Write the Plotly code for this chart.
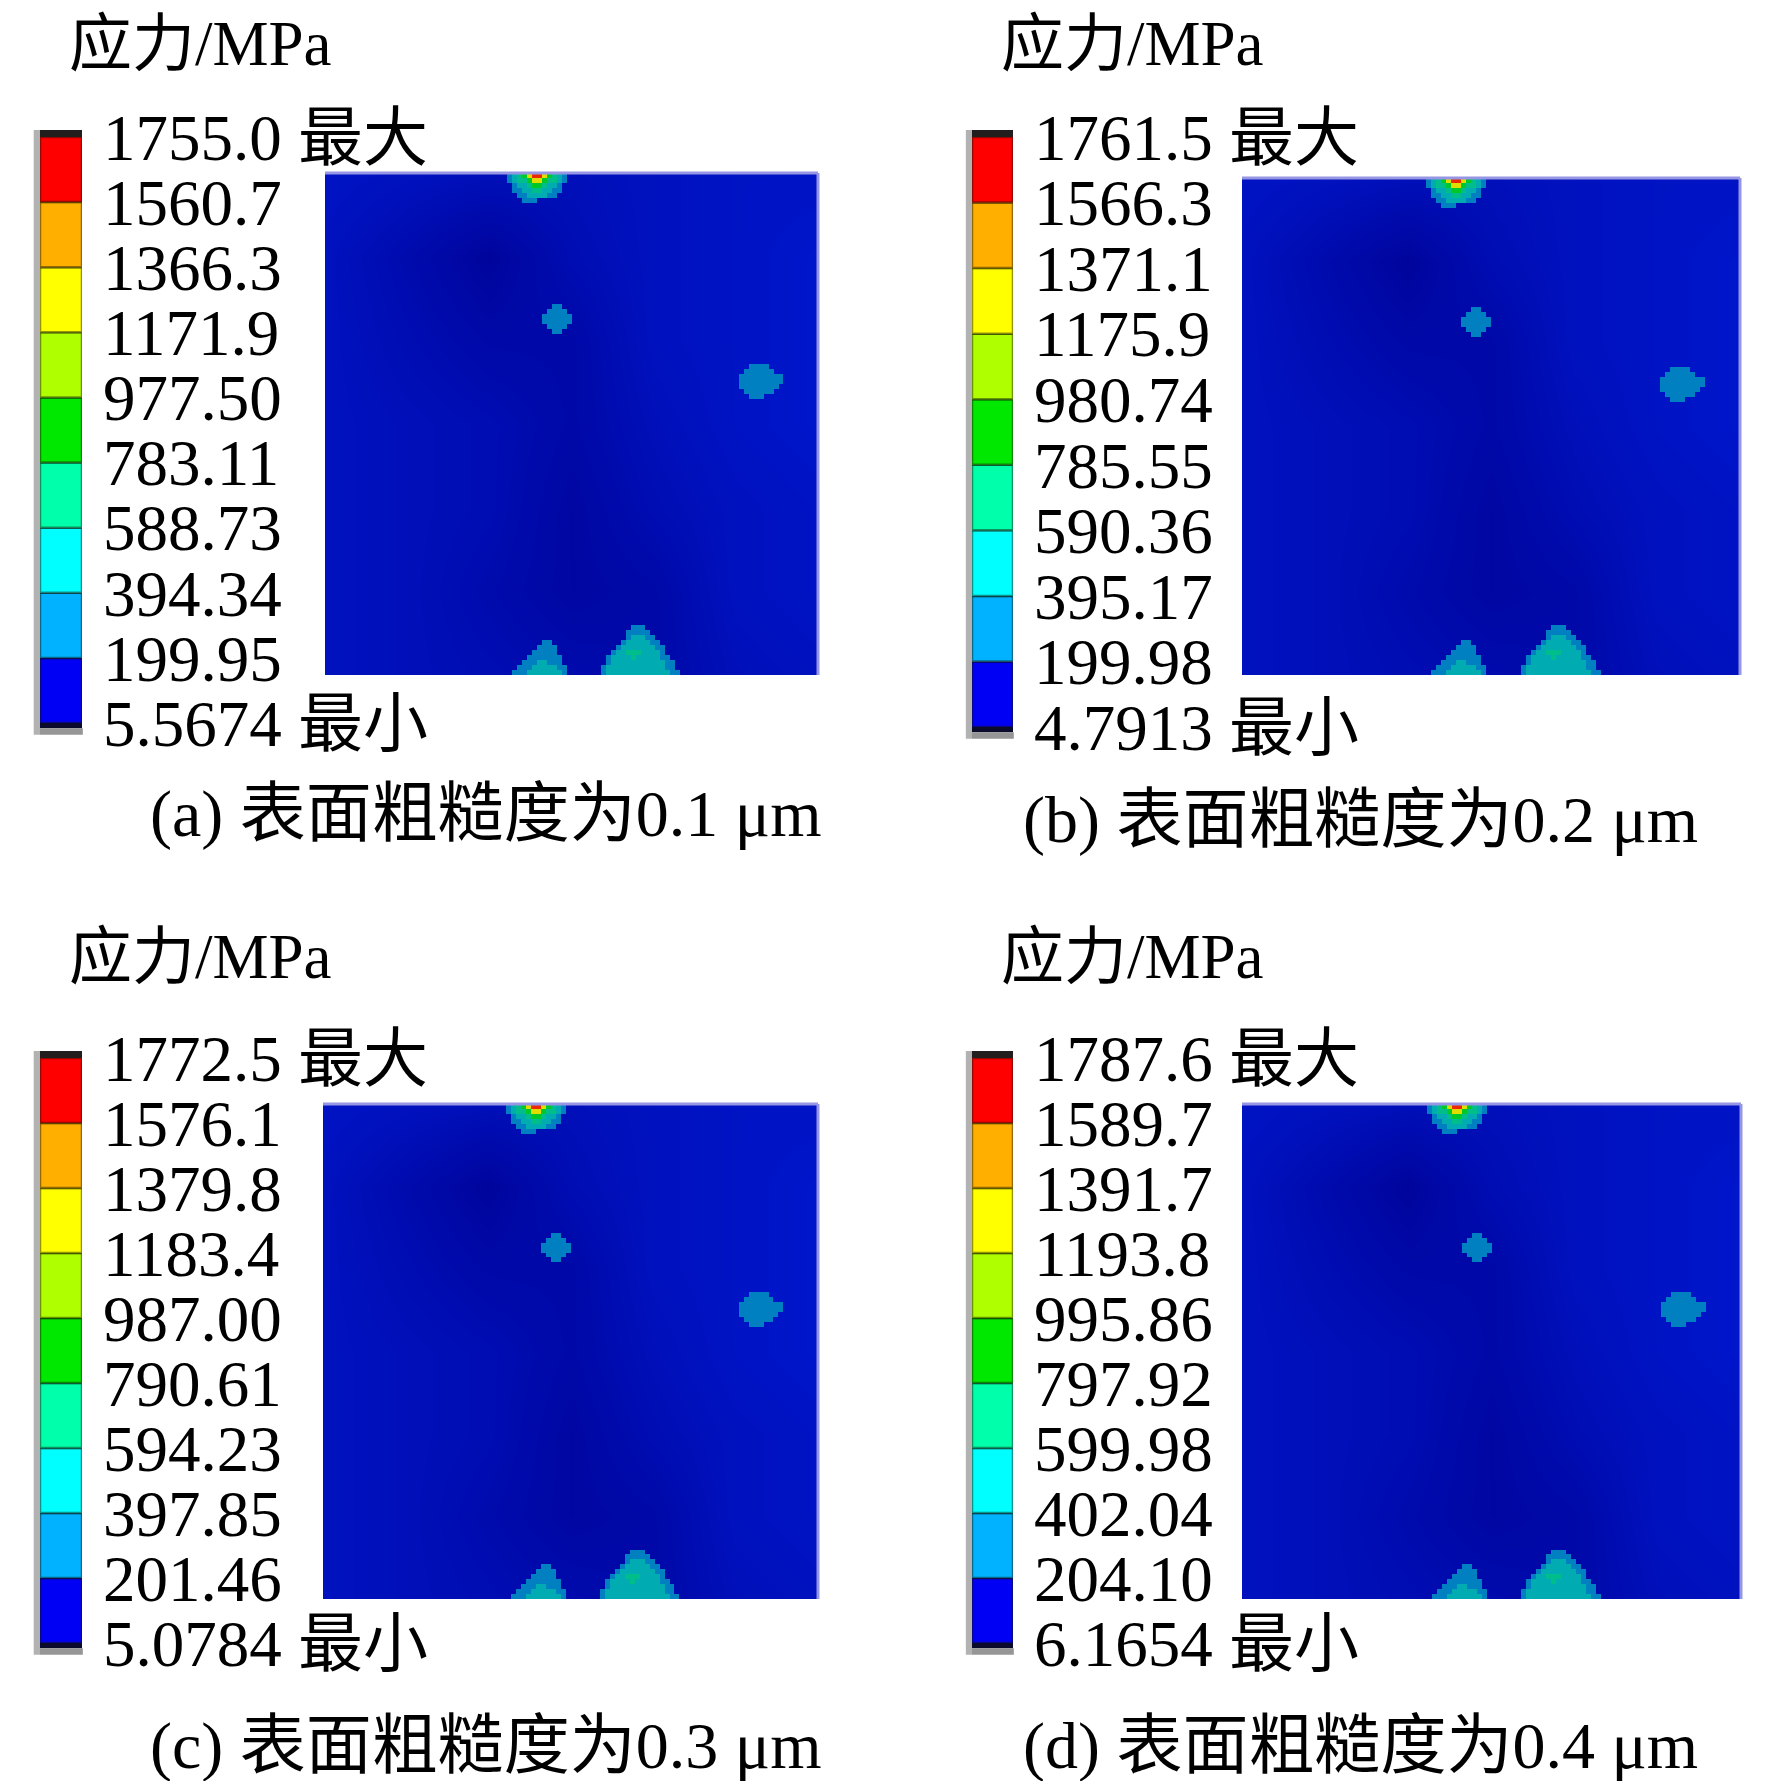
import numpy as np
import plotly.graph_objects as go

# page body keeps an 8 px margin, so the figure is drawn 16 px smaller
PAD = 8
W, H = 1772 - 2 * PAD, 1789 - 2 * PAD

# legend levels (MPa), bottom to top, as printed on each colour bar
levels_a = ["5.5674", "199.95", "394.34", "588.73", "783.11", "977.50", "1171.9", "1366.3", "1560.7", "1755.0"]
levels_b = ["4.7913", "199.98", "395.17", "590.36", "785.55", "980.74", "1175.9", "1371.1", "1566.3", "1761.5"]
levels_c = ["5.0784", "201.46", "397.85", "594.23", "790.61", "987.00", "1183.4", "1379.8", "1576.1", "1772.5"]
levels_d = ["6.1654", "204.10", "402.04", "599.98", "797.92", "995.86", "1193.8", "1391.7", "1589.7", "1787.6"]
captions = ["(a) 表面粗糙度为0.1 μm", "(b) 表面粗糙度为0.2 μm",
            "(c) 表面粗糙度为0.3 μm", "(d) 表面粗糙度为0.4 μm"]
bar_title = "应力/MPa"

# colour bar bands (low -> high) and the shaded versions seen on the contour plot
band_colors = ["rgb(0,0,245)", "rgb(0,178,255)", "rgb(0,255,255)", "rgb(0,255,170)", "rgb(0,232,0)",
               "rgb(175,255,0)", "rgb(255,255,0)", "rgb(255,175,0)", "rgb(255,0,0)"]
map_colors = ["rgb(0,10,190)", "rgb(0,128,192)", "rgb(0,172,178)", "rgb(0,190,140)", "rgb(0,200,40)",
              "rgb(130,210,0)", "rgb(225,220,0)", "rgb(235,150,0)", "rgb(235,40,0)"]

# hot spots on a 100 x 100 cell grid: (row, first column, band index per cell)
spot_rows = [
    (0, 37, "123468864321"),
    (1, 37, "123346643321"),
    (2, 38, "1223443221"),
    (3, 38, "1122332211"),
    (4, 39, "11222211"),
    (5, 40, "111"),
    (26, 46, "11"),
    (27, 45, "1111"),
    (28, 44, "111111"),
    (29, 44, "111111"),
    (30, 45, "1111"),
    (31, 46, "11"),
    (38, 86, "1111"),
    (39, 85, "111111"),
    (40, 84, "111111111"),
    (41, 84, "111111111"),
    (42, 84, "11111111"),
    (43, 85, "111111"),
    (44, 86, "111"),
    (90, 62, "111"),
    (91, 61, "11111"),
    (92, 61, "122211"),
    (93, 60, "12222211"),
    (94, 59, "1222222211"),
    (95, 58, "12233322221"),
    (96, 57, "1222232222211"),
    (97, 57, "12222222222211"),
    (98, 56, "122222222222211"),
    (99, 56, "1222222222222211"),
    (93, 44, "11"),
    (94, 43, "1111"),
    (95, 42, "11111"),
    (96, 41, "1111111"),
    (97, 40, "11122111"),
    (98, 39, "1112222211"),
    (99, 38, "11122222221"),
]

# faint shading of the low-stress background (0 dark .. 1 light), 7 x 7 nodes
shade_pos = [0, 16.7, 33.3, 50, 66.7, 83.3, 100]
shade = [
    [0.8, 0.7, 0.6, 0.6, 0.7, 0.8, 0.8],
    [0.7, 0.4, 0.1, 0.5, 0.7, 0.8, 0.9],
    [0.7, 0.5, 0.3, 0.3, 0.7, 0.8, 0.9],
    [0.7, 0.6, 0.5, 0.3, 0.6, 0.8, 0.9],
    [0.7, 0.6, 0.5, 0.2, 0.5, 0.7, 0.8],
    [0.7, 0.6, 0.4, 0.2, 0.3, 0.7, 0.8],
    [0.7, 0.6, 0.5, 0.4, 0.3, 0.6, 0.7],
]

# pixel boxes of each panel in the page
boxes = [
    dict(title=68, bar=(40, 82, 137, 723), map=(325, 818, 173, 675), cap=(148, 814)),
    dict(title=1000, bar=(972, 1013, 137, 727), map=(1242, 1740, 178, 675), cap=(1021, 820)),
    dict(title=68, bar=(40, 82, 1058, 1643), map=(323, 818, 1104, 1599), cap=(148, 1746)),
    dict(title=1000, bar=(972, 1013, 1058, 1643), map=(1242, 1741, 1104, 1599), cap=(1021, 1746)),
]
title_rows = [8, 8, 921, 921]  # top edge of the title text box

FONT = "Liberation Serif, 'Noto Sans CJK SC', serif"

band_grid = np.full((100, 100), -1)
for r, c0, codes in spot_rows:
    for k, ch in enumerate(codes):
        band_grid[r, c0 + k] = int(ch)


def fx(px):
    return (px - PAD) / W


def fy(py):
    return 1 - (py - PAD) / H


def suffix(n):
    return "" if n == 1 else str(n)


fig = go.Figure()
layout = dict(width=W, height=H, margin=dict(l=0, r=0, t=0, b=0, autoexpand=False),
              paper_bgcolor="white", plot_bgcolor="white", showlegend=False,
              font=dict(family=FONT, color="black"), annotations=[], shapes=[])

for i, (lev_txt, cap, box) in enumerate(zip([levels_a, levels_b, levels_c, levels_d], captions, boxes)):
    lev = np.array([float(t) for t in lev_txt])
    mid = (lev[:-1] + lev[1:]) / 2
    sa, sb = suffix(2 * i + 1), suffix(2 * i + 2)
    xa, ya, xb, yb = "x" + sa, "y" + sa, "x" + sb, "y" + sb

    # contour map: shaded background + banded hot spots
    fig.add_trace(go.Heatmap(x=shade_pos, y=shade_pos, z=shade, zsmooth="best", showscale=False,
                             colorscale=[[0, "rgb(0,2,150)"], [1, "rgb(0,24,208)"]], zmin=0, zmax=1,
                             hoverinfo="skip", xaxis=xa, yaxis=ya))
    z = np.where(band_grid >= 0, mid[np.clip(band_grid, 0, 8)], np.nan)
    scale = []
    for k, col in enumerate(map_colors):
        scale += [[k / 9, col], [(k + 1) / 9, col]]
    fig.add_trace(go.Heatmap(z=z, x0=0.5, dx=1, y0=0.5, dy=1, zmin=lev[0], zmax=lev[-1],
                             colorscale=scale, showscale=False, zsmooth=False,
                             xaxis=xa, yaxis=ya))

    # colour bar as stacked bands
    fig.add_trace(go.Bar(x=[0] * 9, y=np.diff(lev), base=lev[:-1], width=1,
                         marker=dict(color=band_colors, line=dict(color="rgba(20,20,0,0.45)", width=2.5)),
                         hoverinfo="skip", xaxis=xb, yaxis=yb))

    mx0, mx1, my0, my1 = box["map"]
    bx0, bx1, by0, by1 = box["bar"]
    ticktext = list(lev_txt)
    ticktext[0] += " 最小"
    ticktext[-1] += " 最大"

    hidden = dict(visible=False, automargin=False)
    layout["xaxis" + sa] = dict(domain=[fx(mx0), fx(mx1)], range=[0, 100], anchor=ya, **hidden)
    layout["yaxis" + sa] = dict(domain=[fy(my1), fy(my0)], range=[100, 0], anchor=xa, **hidden)
    layout["xaxis" + sb] = dict(domain=[fx(bx0), fx(bx1)], range=[-0.5, 0.5], anchor=yb, **hidden)
    layout["yaxis" + sb] = dict(domain=[fy(by1), fy(by0)], range=[lev[0], lev[-1]], anchor=xb,
                                side="right", showgrid=False, zeroline=False, showline=False, ticks="",
                                automargin=False, tickvals=lev, ticktext=ticktext, ticklabelstandoff=20,
                                tickfont=dict(size=65, family=FONT, color="black"))

    # bar end caps and drop shadow, map border
    dom_b = dict(xref=xb + " domain", yref=yb + " domain", line_width=0, layer="above")
    layout["shapes"] += [
        dict(type="rect", x0=0, x1=1, y0=1, y1=1.012, fillcolor="rgb(35,30,30)", **dom_b),
        dict(type="rect", x0=0, x1=1, y0=-0.009, y1=0, fillcolor="rgb(10,10,45)", **dom_b),
        dict(type="rect", x0=-0.15, x1=0, y0=-0.02, y1=1.012, fillcolor="rgb(178,178,178)", **dom_b),
        dict(type="rect", x0=0, x1=1.02, y0=-0.02, y1=-0.009, fillcolor="rgb(150,150,150)", **dom_b),
    ]
    dom_m = dict(xref=xa + " domain", yref=ya + " domain", layer="above",
                 line=dict(color="rgb(150,150,228)", width=3))
    layout["shapes"] += [
        dict(type="line", x0=0, x1=1, y0=1, y1=1, **dom_m),
        dict(type="line", x0=1, x1=1, y0=0, y1=1, **dom_m),
    ]

    cx, cy = box["cap"]
    layout["annotations"] += [
        dict(text=bar_title, x=fx(box["title"]), y=fy(title_rows[i]), xref="paper", yref="paper",
             xanchor="left", yanchor="top", borderpad=0, showarrow=False, font=dict(size=63, family=FONT)),
        dict(text=cap, x=fx(cx), y=fy(cy), xref="paper", yref="paper", xanchor="left",
             yanchor="middle", showarrow=False, font=dict(size=66, family=FONT)),
    ]

fig.update_layout(**layout)
fig.write_html("out.html")
